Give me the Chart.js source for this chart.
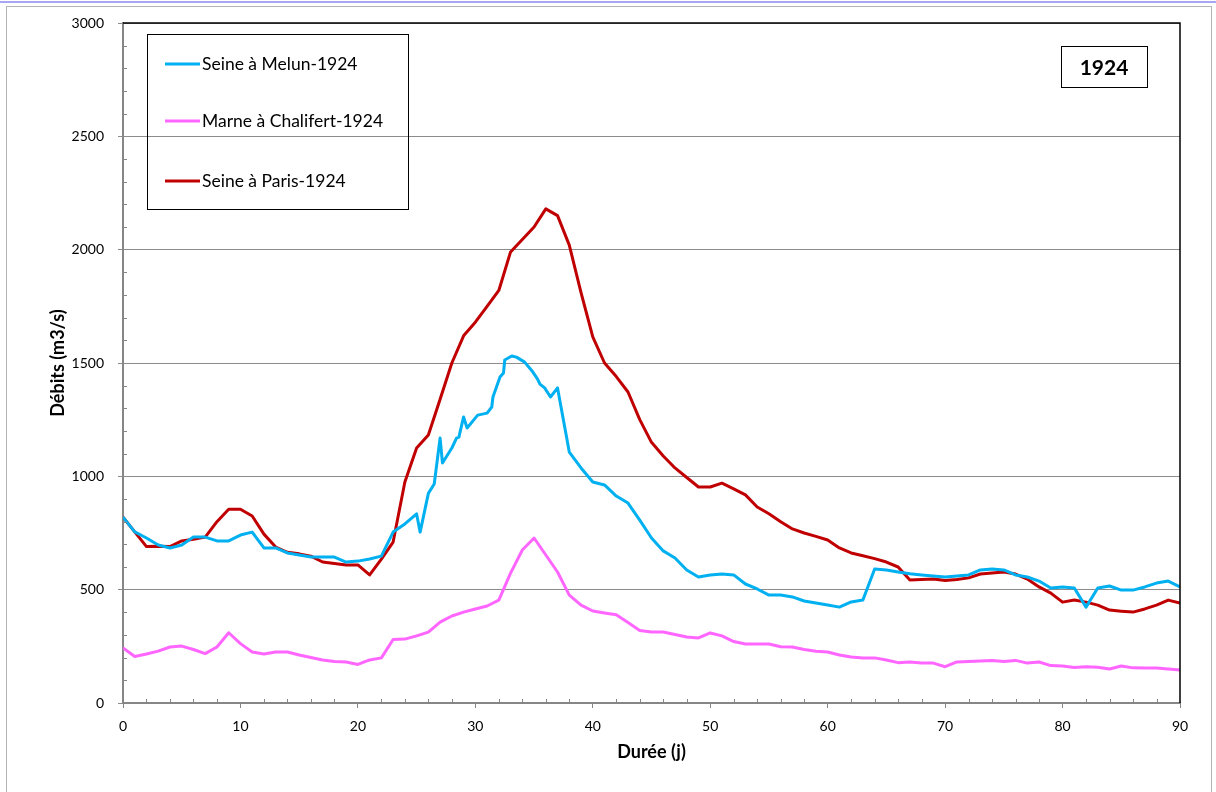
<!DOCTYPE html>
<html>
<head>
<meta charset="utf-8">
<title>Débits 1924</title>
<script src="https://cdn.jsdelivr.net/npm/chart.js@4.4.1/dist/chart.umd.min.js"></script>
<style>
  html, body { margin: 0; padding: 0; background: #fff; }
  canvas { display: block; }
</style>
</head>
<body>
<canvas id="crue" width="1216" height="792"></canvas>
<script>
// valeurs (débits en m3/s)
const jours = Array.from({ length: 91 }, (_, i) => i);

const joursMelun = [0, 1, 2, 3, 4, 5, 6, 7, 8, 9, 10, 11, 12, 13, 14, 15, 16, 17, 18, 19, 20, 21, 22, 23, 24, 25, 25.3,
  26, 26.5, 27, 27.2, 28, 28.4, 28.6, 29, 29.3, 30.2, 31, 31.4, 31.5, 32.1, 32.4, 32.5, 33.1, 33.5, 34.2, 34.9,
  35.3, 35.5, 35.9, 36.4, 37, 38, 39, 40, 41, 42, 43, 44, 45, 46, 47, 48, 49, 50, 51, 52, 53, 54, 55, 56, 57,
  58, 59, 60, 61, 62, 63, 64, 65, 66, 67, 68, 69, 70, 71, 72, 73, 74, 75, 76, 77, 78, 79, 80, 81, 82, 83, 84,
  85, 86, 87, 88, 89, 90];
const debitsMelun = [820, 755, 728, 697, 684, 697, 732, 732, 715, 715, 741, 754, 684, 684, 662, 653, 644, 644, 644, 622, 626, 635, 648, 754, 790, 834, 754,
  925, 966, 1169, 1059, 1125, 1169, 1173, 1262, 1213, 1270, 1279, 1306, 1350, 1438, 1456, 1513, 1531, 1526, 1504, 1460,
  1429, 1407, 1390, 1350, 1390, 1107, 1037, 975, 962, 913, 882, 807, 728, 671, 640, 587, 556, 565, 569, 565, 525, 503, 476, 476, 468,
  450, 441, 432, 423, 446, 454, 591, 587, 578, 570, 565, 560, 556, 560, 565, 587, 591, 587, 565, 556, 538, 507, 512, 507, 423, 507, 516,
  498, 498, 512, 529, 538, 512];

const debitsMarne = [243, 205, 216, 229, 247, 251, 236, 218, 247, 310, 262, 225, 216, 225, 225, 212, 201, 190, 183, 181,
  170, 190, 199, 280, 282, 296, 313, 357, 384, 401, 415, 428, 454, 573, 675, 728, 653, 578, 476, 432,
  406, 397, 389, 355, 320, 313, 313, 302, 291, 287, 309, 296, 271, 260, 260, 260, 248, 247, 236, 228,
  225, 212, 203, 199, 199, 190, 178, 181, 176, 176, 160, 181, 183, 185, 188, 183, 188, 176, 181, 165,
  163, 157, 160, 158, 150, 163, 155, 154, 154, 150, 146];

const debitsParis = [820, 755, 690, 692, 690, 715, 722, 732, 800, 855, 855, 825, 745, 688, 665, 658, 648, 622, 615, 609,
  609, 565, 635, 710, 975, 1125, 1182, 1340, 1500, 1620, 1680, 1750, 1820, 1990, 2045, 2100, 2180, 2150, 2020, 1810,
  1615, 1500, 1440, 1372, 1250, 1150, 1090, 1037, 995, 953, 953, 970, 945, 918, 865, 835, 800, 768, 750, 735,
  719, 684, 662, 650, 637, 622, 600, 543, 545, 547, 540, 545, 552, 569, 573, 578, 569, 547, 512, 485,
  445, 454, 445, 432, 410, 405, 401, 415, 432, 454, 441];

const libelles = ["Seine à Melun-1924", "Marne à Chalifert-1924", "Seine à Paris-1924"];
const couleurs = ["#00b0f0", "#ff66ff", "#c00000"];
const annee = "1924";

const police = "Lato, 'Open Sans', sans-serif";

function points(xs, ys) {
  return xs.map((x, i) => ({ x: x, y: ys[i] }));
}

// cadre, petites graduations, légende et encadré de l'année
const habillage = {
  id: "habillage",
  beforeDraw(chart) {
    const ctx = chart.ctx;
    ctx.save();
    ctx.fillStyle = "#fff";
    ctx.fillRect(0, 0, chart.width, chart.height);
    ctx.fillStyle = "#a6a6f2";
    ctx.fillRect(0, 1, chart.width, 2);
    ctx.strokeStyle = "#b4b4b4";
    ctx.lineWidth = 1;
    ctx.strokeRect(6.5, 6.5, 1205, 800);
    ctx.restore();
  },
  afterDraw(chart) {
    const ctx = chart.ctx;
    const a = chart.chartArea;
    const sx = chart.scales.x, sy = chart.scales.y;
    ctx.save();

    // bord haut et droit de la zone de tracé
    ctx.strokeStyle = "#000";
    ctx.lineWidth = 1.5;
    ctx.beginPath();
    ctx.moveTo(a.left, a.top);
    ctx.lineTo(a.right, a.top);
    ctx.lineTo(a.right, a.bottom);
    ctx.stroke();

    // graduations secondaires
    ctx.strokeStyle = "#868686";
    ctx.lineWidth = 1;
    ctx.beginPath();
    for (let v = 100; v < 3000; v += 100) {
      if (v % 500 === 0) continue;
      const y = Math.round(sy.getPixelForValue(v)) + 0.5;
      ctx.moveTo(a.left, y);
      ctx.lineTo(a.left + 4, y);
    }
    for (let d = 2; d < 90; d += 2) {
      if (d % 10 === 0) continue;
      const x = Math.round(sx.getPixelForValue(d)) + 0.5;
      ctx.moveTo(x, a.bottom);
      ctx.lineTo(x, a.bottom - 4);
    }
    ctx.stroke();

    // légende
    ctx.strokeStyle = "#000";
    ctx.lineWidth = 1;
    ctx.strokeRect(147.5, 34.5, 261, 175);
    const ys = [64, 121, 181];
    ctx.font = "17.5px " + police;
    ctx.textBaseline = "middle";
    chart.data.datasets.forEach((ds, i) => {
      ctx.strokeStyle = ds.borderColor;
      ctx.lineWidth = 3;
      ctx.beginPath();
      ctx.moveTo(165, ys[i]);
      ctx.lineTo(200, ys[i]);
      ctx.stroke();
      ctx.fillStyle = "#000";
      ctx.fillText(ds.label, 202, ys[i]);
    });

    // encadré de l'année
    ctx.strokeStyle = "#000";
    ctx.lineWidth = 1;
    ctx.strokeRect(1061.5, 46.5, 86, 41);
    ctx.font = "bold 21px " + police;
    ctx.textAlign = "center";
    ctx.fillText(annee, 1104, 68);
    ctx.restore();
  }
};

new Chart(document.getElementById("crue"), {
  type: "line",
  data: {
    datasets: [
      { label: libelles[0], data: points(joursMelun, debitsMelun), borderColor: couleurs[0] },
      { label: libelles[1], data: points(jours, debitsMarne), borderColor: couleurs[1] },
      { label: libelles[2], data: points(jours, debitsParis), borderColor: couleurs[2] }
    ]
  },
  options: {
    responsive: false,
    animation: false,
    devicePixelRatio: 1,
    layout: { padding: { left: 6, right: 36, top: 23, bottom: 0 } },
    elements: {
      point: { radius: 0 },
      line: { borderWidth: 3, tension: 0, borderJoinStyle: "round" }
    },
    plugins: {
      legend: { display: false },
      tooltip: { enabled: false }
    },
    scales: {
      x: {
        type: "linear",
        min: 0,
        max: 90,
        afterFit: (s) => { s.height = 89; },
        border: { color: "#868686", width: 2 },
        grid: { drawOnChartArea: false, drawTicks: true, tickLength: 5, color: "#868686" },
        ticks: { stepSize: 10, padding: 10, color: "#000", font: { family: police, size: 14 },
          callback: (v) => String(v) },
        title: { display: true, text: "Durée (j)", color: "#000", padding: { top: 0, bottom: 29 },
          font: { family: police, size: 18, weight: "bold" } }
      },
      y: {
        min: 0,
        max: 3000,
        afterFit: (s) => { s.width = 117; },
        border: { color: "#868686", width: 2 },
        grid: { color: "#8c8c8c", lineWidth: 1, tickLength: 5 },
        ticks: { stepSize: 500, padding: 14, color: "#000", font: { family: police, size: 14 },
          callback: (v) => String(v) },
        title: { display: true, text: "Débits (m3/s)", color: "#000", padding: { top: 41, bottom: 0 },
          font: { family: police, size: 18, weight: "bold" } }
      }
    }
  },
  plugins: [habillage]
});
</script>
</body>
</html>
